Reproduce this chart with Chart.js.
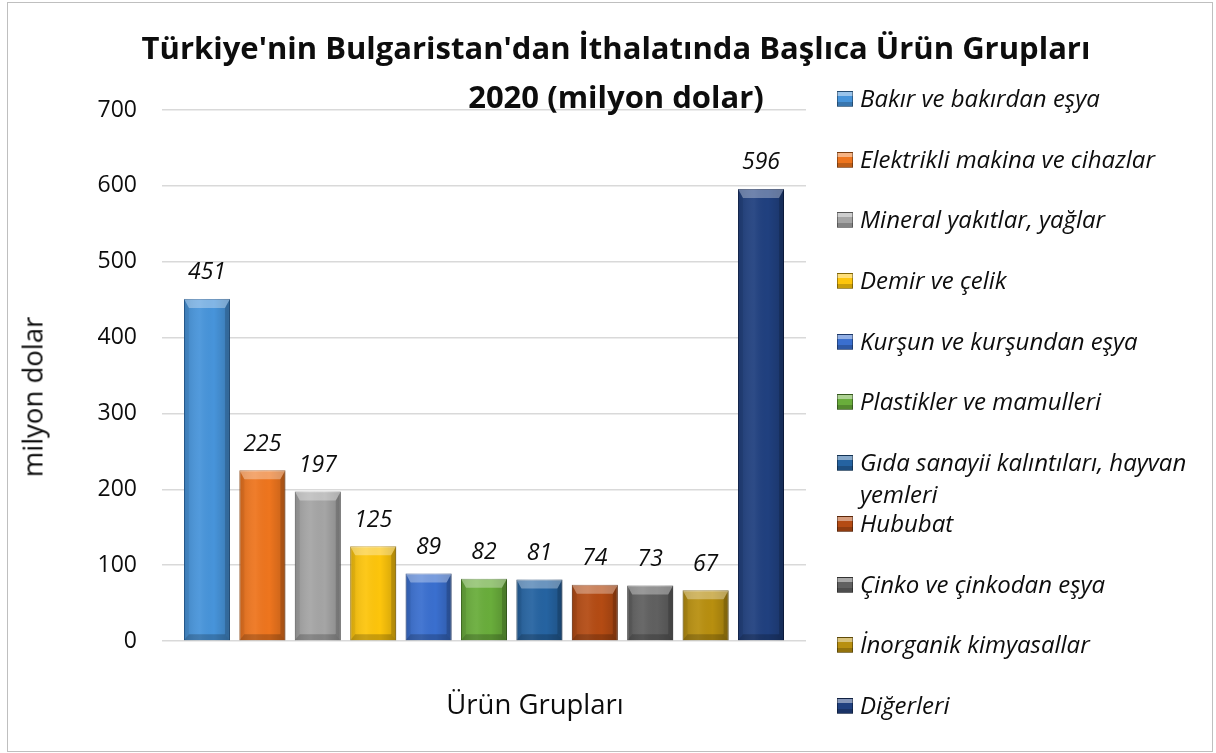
<!DOCTYPE html>
<html lang="tr">
<head>
<meta charset="utf-8">
<title>Türkiye'nin Bulgaristan'dan İthalatında Başlıca Ürün Grupları</title>
<script src="https://cdn.jsdelivr.net/npm/chart.js@4.4.1/dist/chart.umd.min.js"></script>
<style>
    html, body { margin: 0; padding: 0; background: #fff; }
    body { width: 1216px; height: 753px; position: relative; overflow: hidden; font-family: "Open Sans", "Noto Sans", sans-serif; color: #0d0d0d; }
    #frame { position: absolute; left: 7px; top: 2px; width: 1204px; height: 748px; border: 1px solid #bfbfbf; }
    #chart { position: absolute; left: 0; top: 0; }
    #title { position: absolute; left: 8px; top: 23px; width: 1216px; text-align: center; font-weight: 700; font-size: 31px; line-height: 49px; }
    #yTitle { position: absolute; left: 32px; top: 397px; transform: translate(-50%, -50%) rotate(-90deg); font-size: 27.5px; white-space: nowrap; }
    #xTitle { position: absolute; left: 535px; top: 703px; transform: translate(-50%, -50%); font-size: 27.5px; white-space: nowrap; }
    #legend { position: absolute; left: 837px; top: 82px; }
    .item { display: flex; align-items: flex-start; height: 60.7px; }
    .swatch { width: 14px; height: 14px; margin-top: 9px; flex: none; border: 1px solid rgba(0,0,0,0.35); }
    .label { margin-left: 7px; font-style: italic; font-size: 24px; line-height: 32px; max-width: 350px; }
</style>
</head>
<body>
<div id="frame"></div>
<canvas id="chart" width="1216" height="753"></canvas>
<div id="title">Türkiye'nin Bulgaristan'dan İthalatında Başlıca Ürün Grupları<br>2020 (milyon dolar)</div>
<div id="yTitle">milyon dolar</div>
<div id="xTitle">Ürün Grupları</div>
<div id="legend"></div>

<script>
// chart data
const categories = [
    'Bakır ve bakırdan eşya',
    'Elektrikli makina ve cihazlar',
    'Mineral yakıtlar, yağlar',
    'Demir ve çelik',
    'Kurşun ve kurşundan eşya',
    'Plastikler ve mamulleri',
    'Gıda sanayii kalıntıları, hayvan yemleri',
    'Hububat',
    'Çinko ve çinkodan eşya',
    'İnorganik kimyasallar',
    'Diğerleri'
];
const values = [451, 225, 197, 125, 89, 82, 81, 74, 73, 67, 596];
const yTicks = [0, 100, 200, 300, 400, 500, 600, 700];

const barColors = ['#4794da', '#ee751e', '#a5a5a5', '#fdc50c', '#3a6fcf', '#69ad3b',
                   '#2563a1', '#b44b13', '#606060', '#b88f0f', '#20407f'];
const edgeColors = ['#2e6aa6', '#b2540f', '#767676', '#c0920a', '#264e98', '#4a7e28',
                    '#17426f', '#7d320b', '#3c3c3c', '#846609', '#132857'];

// legend built from the same arrays
const legendEl = document.getElementById('legend');
categories.forEach((name, i) => {
    const row = document.createElement('div');
    row.className = 'item';
    row.innerHTML = `<span class="swatch" style="background:
        linear-gradient(to bottom, rgba(255,255,255,0.45) 0 30%, rgba(0,0,0,0) 30% 75%, rgba(0,0,0,0.2) 75%),
        ${barColors[i]}"></span><span class="label">${name}</span>`;
    legendEl.appendChild(row);
});

// 3D bevel look on bars, like the Excel original
const bevelPlugin = {
    id: 'bevel',
    afterDatasetsDraw(chart) {
        const ctx = chart.ctx;
        const meta = chart.getDatasetMeta(0);
        meta.data.forEach(bar => {
            const l = bar.x - bar.width / 2, r = bar.x + bar.width / 2;
            const t = bar.y, b = bar.base;
            const s = 5, tb = 9, bb = 6;
            ctx.save();
            // soft horizontal shading
            const g = ctx.createLinearGradient(l, 0, r, 0);
            g.addColorStop(0, 'rgba(0,0,0,0.12)');
            g.addColorStop(0.35, 'rgba(255,255,255,0.06)');
            g.addColorStop(0.65, 'rgba(0,0,0,0)');
            g.addColorStop(1, 'rgba(0,0,0,0.18)');
            ctx.fillStyle = g;
            ctx.fillRect(l, t, r - l, b - t);
            // top bevel
            ctx.fillStyle = 'rgba(255,255,255,0.32)';
            ctx.beginPath();
            ctx.moveTo(l, t); ctx.lineTo(r, t); ctx.lineTo(r - s, t + tb); ctx.lineTo(l + s, t + tb);
            ctx.closePath(); ctx.fill();
            // left bevel
            ctx.fillStyle = 'rgba(0,0,0,0.06)';
            ctx.beginPath();
            ctx.moveTo(l, t); ctx.lineTo(l + s, t + tb); ctx.lineTo(l + s, b - bb); ctx.lineTo(l, b);
            ctx.closePath(); ctx.fill();
            // right bevel
            ctx.fillStyle = 'rgba(0,0,0,0.16)';
            ctx.beginPath();
            ctx.moveTo(r, t); ctx.lineTo(r - s, t + tb); ctx.lineTo(r - s, b - bb); ctx.lineTo(r, b);
            ctx.closePath(); ctx.fill();
            // bottom bevel
            ctx.fillStyle = 'rgba(0,0,0,0.2)';
            ctx.beginPath();
            ctx.moveTo(l, b); ctx.lineTo(l + s, b - bb); ctx.lineTo(r - s, b - bb); ctx.lineTo(r, b);
            ctx.closePath(); ctx.fill();
            ctx.restore();
        });
    }
};

// value labels above the bars
const valueLabels = {
    id: 'valueLabels',
    afterDatasetsDraw(chart) {
        const ctx = chart.ctx;
        const meta = chart.getDatasetMeta(0);
        ctx.save();
        ctx.font = 'italic 23px "Open Sans", "Noto Sans", sans-serif';
        ctx.fillStyle = '#0d0d0d';
        ctx.textAlign = 'center';
        ctx.textBaseline = 'middle';
        meta.data.forEach((bar, i) => {
            ctx.fillText(values[i], bar.x, bar.y - 26);
        });
        ctx.restore();
    }
};

new Chart(document.getElementById('chart'), {
    type: 'bar',
    data: {
        datasets: [{
            data: values.map((v, i) => ({ x: i, y: v })),
            backgroundColor: barColors,
            borderColor: edgeColors,
            borderWidth: 1,
            barPercentage: 0.83,
            categoryPercentage: 1
        }]
    },
    options: {
        responsive: false,
        animation: false,
        layout: { padding: { left: 77, top: 110, right: 410, bottom: 112 } },
        plugins: { legend: { display: false }, tooltip: { enabled: false } },
        scales: {
            x: {
                type: 'linear',
                offset: false,
                min: -0.812,
                max: 10.812,
                display: false
            },
            y: {
                min: 0,
                max: 700,
                afterBuildTicks: scale => { scale.ticks = yTicks.map(v => ({ value: v })); },
                afterFit: scale => { scale.width = 85; },
                border: { display: false },
                grid: { color: '#d9d9d9', lineWidth: 1.5, drawTicks: false },
                ticks: {
                    padding: 25,
                    color: '#0d0d0d',
                    font: { family: '"Open Sans", "Noto Sans", sans-serif', size: 23 }
                }
            }
        }
    },
    plugins: [bevelPlugin, valueLabels]
});
</script>
</body>
</html>
